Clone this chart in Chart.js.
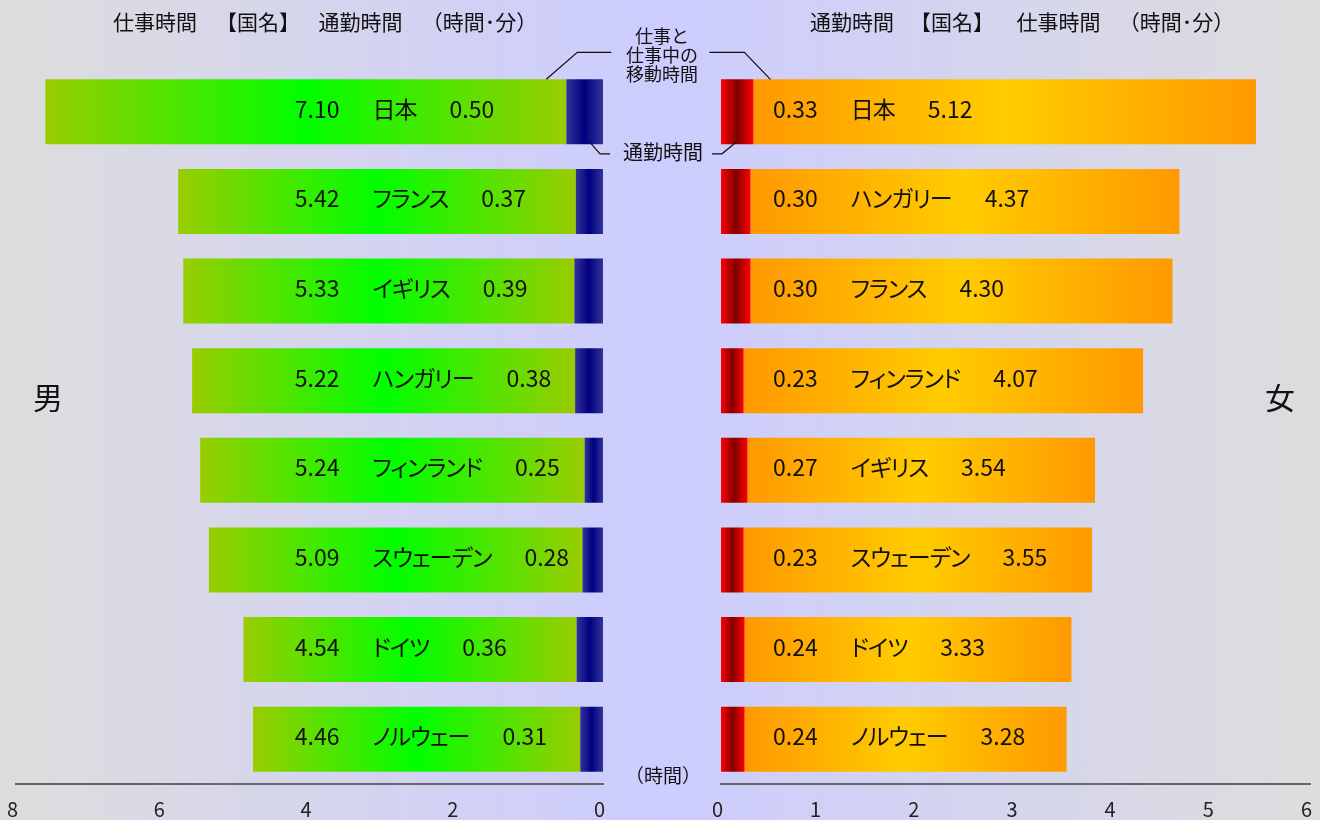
<!DOCTYPE html>
<html><head><meta charset="utf-8">
<script src="https://cdn.jsdelivr.net/npm/chart.js@4.4.1/dist/chart.umd.min.js"></script>
<style>
html,body{margin:0;padding:0;width:1320px;height:820px;overflow:hidden;}
body{background:linear-gradient(to right,#dddddd 0%,#ccccff 50%,#dddddd 100%);}
canvas{position:absolute;left:0;top:0;}
.row{position:absolute;white-space:nowrap;line-height:1;font-size:23px;color:#111;
  font-family:"Noto Sans CJK JP","Noto Sans",sans-serif;font-feature-settings:"palt";}
.row span{display:inline-block;}
.row span.nm{letter-spacing:-1px;}
</style></head><body>
<canvas id="men" width="1320" height="820"></canvas>
<canvas id="women" width="1320" height="820"></canvas>
<script>
// ---- data (hours.minutes as shown in the source) ----
const menCountries = ['日本','フランス','イギリス','ハンガリー','フィンランド','スウェーデン','ドイツ','ノルウェー'];
const menWork      = [7.10, 5.42, 5.33, 5.22, 5.24, 5.09, 4.54, 4.46];
const menCommute   = [0.50, 0.37, 0.39, 0.38, 0.25, 0.28, 0.36, 0.31];
const womenCountries = ['日本','ハンガリー','フランス','フィンランド','イギリス','スウェーデン','ドイツ','ノルウェー'];
const womenCommute   = [0.33, 0.30, 0.30, 0.23, 0.27, 0.23, 0.24, 0.24];
const womenWork      = [5.12, 4.37, 4.30, 4.07, 3.54, 3.55, 3.33, 3.28];
const menTickMax = 8, menTickStep = 2;
const womenTickMax = 6, womenTickStep = 1;
const headerMen = ['仕事時間', '【国名】', '通勤時間', '（時間･分）'];
const headerWomen = ['通勤時間', '【国名】', '仕事時間', '（時間･分）'];

const FONT = '"Noto Sans CJK JP", "Noto Sans", sans-serif';
Chart.defaults.font.family = FONT;

function grad(startArr, lenArr, edge, mid) {
  return function (ctx) {
    if (ctx.type !== 'data') return edge;
    const chart = ctx.chart, xs = chart.scales.x;
    if (!xs || !chart.chartArea) return edge;
    const i = ctx.dataIndex;
    const s = startArr ? startArr[i] : 0;
    const e = s + lenArr[i];
    const p0 = xs.getPixelForValue(s), p1 = xs.getPixelForValue(e);
    if (!isFinite(p0) || !isFinite(p1)) return edge;
    const g = chart.ctx.createLinearGradient(Math.min(p0, p1), 0, Math.max(p0, p1), 0);
    g.addColorStop(0, edge); g.addColorStop(0.5, mid); g.addColorStop(1, edge);
    return g;
  };
}

// in-bar labels as real HTML text (proportional kana via palt)
function rowLabels(anchorVal, first, names, last) {
  return {
    id: 'rowLabels',
    afterRender(chart) {
      if (chart.$rowsDone) return;
      chart.$rowsDone = true;
      const xs = chart.scales.x, meta = chart.getDatasetMeta(1);
      meta.data.forEach((bar, i) => {
        const d = document.createElement('div');
        d.className = 'row';
        d.style.left = xs.getPixelForValue(anchorVal) + 'px';
        d.style.top = (bar.y - 4) + 'px';
        d.style.transform = 'translateY(-50%)';
        [first[i].toFixed(2), names[i], last[i].toFixed(2)].forEach((p, k) => {
          const s = document.createElement('span');
          s.textContent = p;
          if (k === 1) s.className = 'nm';
          if (k < 2) s.style.marginRight = '33px';
          d.appendChild(s);
        });
        document.body.appendChild(d);
      });
    }
  };
}

function line(c, pts) {
  c.beginPath(); c.moveTo(pts[0][0], pts[0][1]);
  for (let k = 1; k < pts.length; k++) c.lineTo(pts[k][0], pts[k][1]);
  c.stroke();
}
function header(c, parts, centers) {
  c.textAlign = 'center'; c.font = '21px ' + FONT;
  parts.forEach((p, k) => c.fillText(p, centers[k], 22));
}

const menDecor = {
  id: 'menDecor',
  afterDraw(chart) {
    const c = chart.ctx;
    const work0 = chart.getDatasetMeta(1).data[0];
    const com0 = chart.getDatasetMeta(0).data[0];
    c.save();
    c.strokeStyle = '#111'; c.lineWidth = 1.2;
    const top = work0.y - work0.height / 2, bot = com0.y + com0.height / 2;
    line(c, [[work0.base - 20, top], [work0.base + 11, top - 27], [work0.base + 45, top - 27]]);
    line(c, [[com0.base - 13, bot - 2], [com0.base - 3, bot + 9.5], [com0.base + 7, bot + 9.5]]);
    c.fillStyle = '#111'; c.textBaseline = 'middle';
    header(c, headerMen, [155, 258, 360.5, 479.5]);
    c.textAlign = 'center'; c.font = '30px ' + FONT;
    c.fillText('男', 48, 398);
    c.restore();
  }
};

const womenDecor = {
  id: 'womenDecor',
  afterDraw(chart) {
    const c = chart.ctx;
    const com0 = chart.getDatasetMeta(0).data[0];
    c.save();
    c.strokeStyle = '#111'; c.lineWidth = 1.2;
    const top = com0.y - com0.height / 2, bot = com0.y + com0.height / 2;
    line(c, [[com0.x + 17, top], [com0.x - 9, top - 27], [com0.x - 44, top - 27]]);
    line(c, [[com0.base + 15, bot - 2], [com0.base + 1, bot + 9.5], [com0.base - 9, bot + 9.5]]);
    c.fillStyle = '#111'; c.textBaseline = 'middle';
    header(c, headerWomen, [852, 952, 1058.5, 1176.5]);
    c.textAlign = 'center';
    c.font = '18px ' + FONT;
    c.fillText('仕事と', 662, 36);
    c.fillText('仕事中の', 662, 55);
    c.fillText('移動時間', 662, 74);
    c.font = '20px ' + FONT;
    c.fillText('通勤時間', 663, 152);
    c.font = '19px ' + FONT;
    c.fillText('（時間）', 663, 776);
    c.font = '30px ' + FONT;
    c.fillText('女', 1280, 398);
    c.restore();
  }
};

function xAxis(max, step, reverse) {
  return {
    type: 'linear', min: 0, max: max, reverse: reverse, stacked: true,
    grid: { display: false, drawTicks: false },
    border: { display: true, color: '#666', width: 2 },
    ticks: { stepSize: step, color: '#222', font: { size: 20, lineHeight: 1.2 }, padding: 13, labelOffset: -3.5, maxRotation: 0 },
    afterFit(scale) { scale.paddingLeft = 0; scale.paddingRight = 0; scale.height = 36; }
  };
}
const yAxis = { type: 'category', display: false, stacked: true, grid: { display: false } };

const common = {
  responsive: false, animation: false, events: [],
  indexAxis: 'y',
  plugins: { legend: { display: false }, tooltip: { enabled: false } },
  datasets: { bar: { categoryPercentage: 1, barPercentage: 0.725, borderWidth: 0 } }
};

new Chart(document.getElementById('men'), {
  type: 'bar',
  data: {
    labels: menCountries,
    datasets: [
      { label: '通勤時間', data: menCommute, backgroundColor: grad(null, menCommute, '#333399', '#000080') },
      { label: '仕事時間', data: menWork, backgroundColor: grad(menCommute, menWork, '#99cc00', '#00ff00') }
    ]
  },
  options: Object.assign({}, common, {
    layout: { padding: { left: 16, right: 717, top: 67, bottom: 0 } },
    scales: { x: xAxis(menTickMax, menTickStep, true), y: yAxis }
  }),
  plugins: [rowLabels(4.2, menWork, menCountries, menCommute), menDecor]
});

new Chart(document.getElementById('women'), {
  type: 'bar',
  data: {
    labels: womenCountries,
    datasets: [
      { label: '通勤時間', data: womenCommute, backgroundColor: grad(null, womenCommute, '#ff0000', '#800000') },
      { label: '仕事時間', data: womenWork, backgroundColor: grad(womenCommute, womenWork, '#ff9900', '#ffcc00') }
    ]
  },
  options: Object.assign({}, common, {
    layout: { padding: { left: 721, right: 10, top: 67, bottom: 0 } },
    scales: { x: xAxis(womenTickMax, womenTickStep, false), y: yAxis }
  }),
  plugins: [rowLabels(0.53, womenCommute, womenCountries, womenWork), womenDecor]
});
</script>
</body></html>
